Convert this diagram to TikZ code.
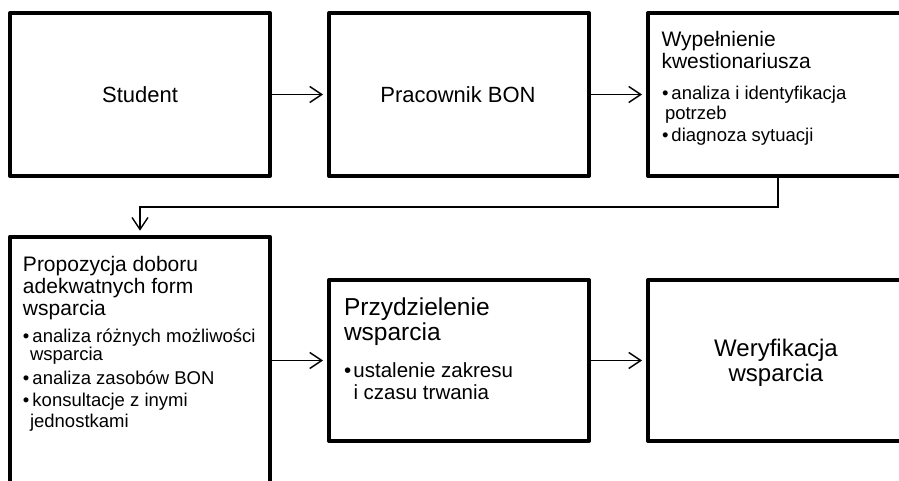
\documentclass[tikz,border=0pt]{standalone}
\usepackage{fontspec}
\setmainfont{Liberation Sans}
\usetikzlibrary{arrows.meta}
% bullet followed by a fixed gap before the item text
\newcommand\bulletmark{\makebox[9.5pt][l]{•}}
\begin{document}
\begin{tikzpicture}[x=1pt, y=-1pt,
  box/.style={draw=black, line width=4pt, line join=round, rectangle,
    inner sep=0pt, outer sep=0pt, minimum width=260pt},
  flow/.style={draw=black, line width=1.4pt, shorten >=6pt,
    -{Straight Barb[length=12pt, width=16pt]}},
  txtline/.style={inner sep=0pt, outer sep=0pt, anchor=base west},
  hd/.style={txtline, font=\fontsize{21pt}{25pt}\selectfont},
  itemtxt/.style={txtline, font=\fontsize{18.5pt}{22pt}\selectfont},
  hdbig/.style={txtline, font=\fontsize{24.5pt}{28pt}\selectfont},
  itembig/.style={txtline, font=\fontsize{20.5pt}{24pt}\selectfont},
  midtxt/.style={inner sep=0pt, outer sep=0pt, anchor=base,
    font=\fontsize{22pt}{26pt}\selectfont},
  midbig/.style={midtxt, font=\fontsize{24pt}{28pt}\selectfont},
]
\useasboundingbox (0,0) rectangle (899,481);
\fill[white] (0,0) rectangle (899,481);
\clip (0,0) rectangle (899,481);

% top row of boxes
\node[box, minimum height=163pt] (student) at (140,94.5) {};
\node[box, minimum height=163pt] (bon) at (459,94.5) {};
\node[box, minimum height=163pt] (ankieta) at (778,94.5) {};
% bottom row of boxes
\node[box, minimum height=290pt] (propozycja) at (140,381.7) {};
\node[box, minimum height=161pt] (przydzial) at (459,360.5) {};
\node[box, minimum height=161pt] (weryfikacja) at (778,360.5) {};

% texts of the top row
\node[midtxt] (t-student) at (140,102.5) {Student};
\node[midtxt] (t-bon) at (458,102.5) {Pracownik BON};
\node[hd] (t-ank1) at (661.5,47) {Wypełnienie};
\node[hd] (t-ank2) at (661.5,69) {kwestionariusza};
\node[itemtxt] (t-ank3) at (662,100) {\bulletmark analiza i identyfikacja};
\node[itemtxt] (t-ank4) at (665,119.5) {potrzeb};
\node[itemtxt] (t-ank5) at (662,141.5) {\bulletmark diagnoza sytuacji};

% texts of the bottom row
\node[hd] (t-pro1) at (23,271) {Propozycja doboru};
\node[hd] (t-pro2) at (23,293.5) {adekwatnych form};
\node[hd] (t-pro3) at (23,315.5) {wsparcia};
\node[itemtxt] (t-pro4) at (23,342) {\bulletmark analiza różnych możliwości};
\node[itemtxt] (t-pro5) at (30,360.5) {wsparcia};
\node[itemtxt] (t-pro6) at (23,384) {\bulletmark analiza zasobów BON};
\node[itemtxt] (t-pro7) at (23,406.5) {\bulletmark konsultacje z inymi};
\node[itemtxt] (t-pro8) at (30,427) {jednostkami};

\node[hdbig] (t-prz1) at (344,315) {Przydzielenie};
\node[hdbig] (t-prz2) at (344,340) {wsparcia};
\node[itembig] (t-prz3) at (344,377) {\bulletmark ustalenie zakresu};
\node[itembig] (t-prz4) at (353.5,399) {i czasu trwania};

\node[midbig] (t-wer1) at (776,356.5) {Weryfikacja};
\node[midbig] (t-wer2) at (776,381.5) {wsparcia};

% connectors
\coordinate (zakret) at (0,207);
\draw[flow] (student.east) -- (bon.west);
\draw[flow] (bon.east) -- (ankieta.west);
\draw[flow] (ankieta.south) -- (ankieta.south |- zakret) -| (propozycja.north);
\draw[flow] (propozycja.east |- przydzial.west) -- (przydzial.west);
\draw[flow] (przydzial.east) -- (weryfikacja.west);
\end{tikzpicture}
\end{document}
